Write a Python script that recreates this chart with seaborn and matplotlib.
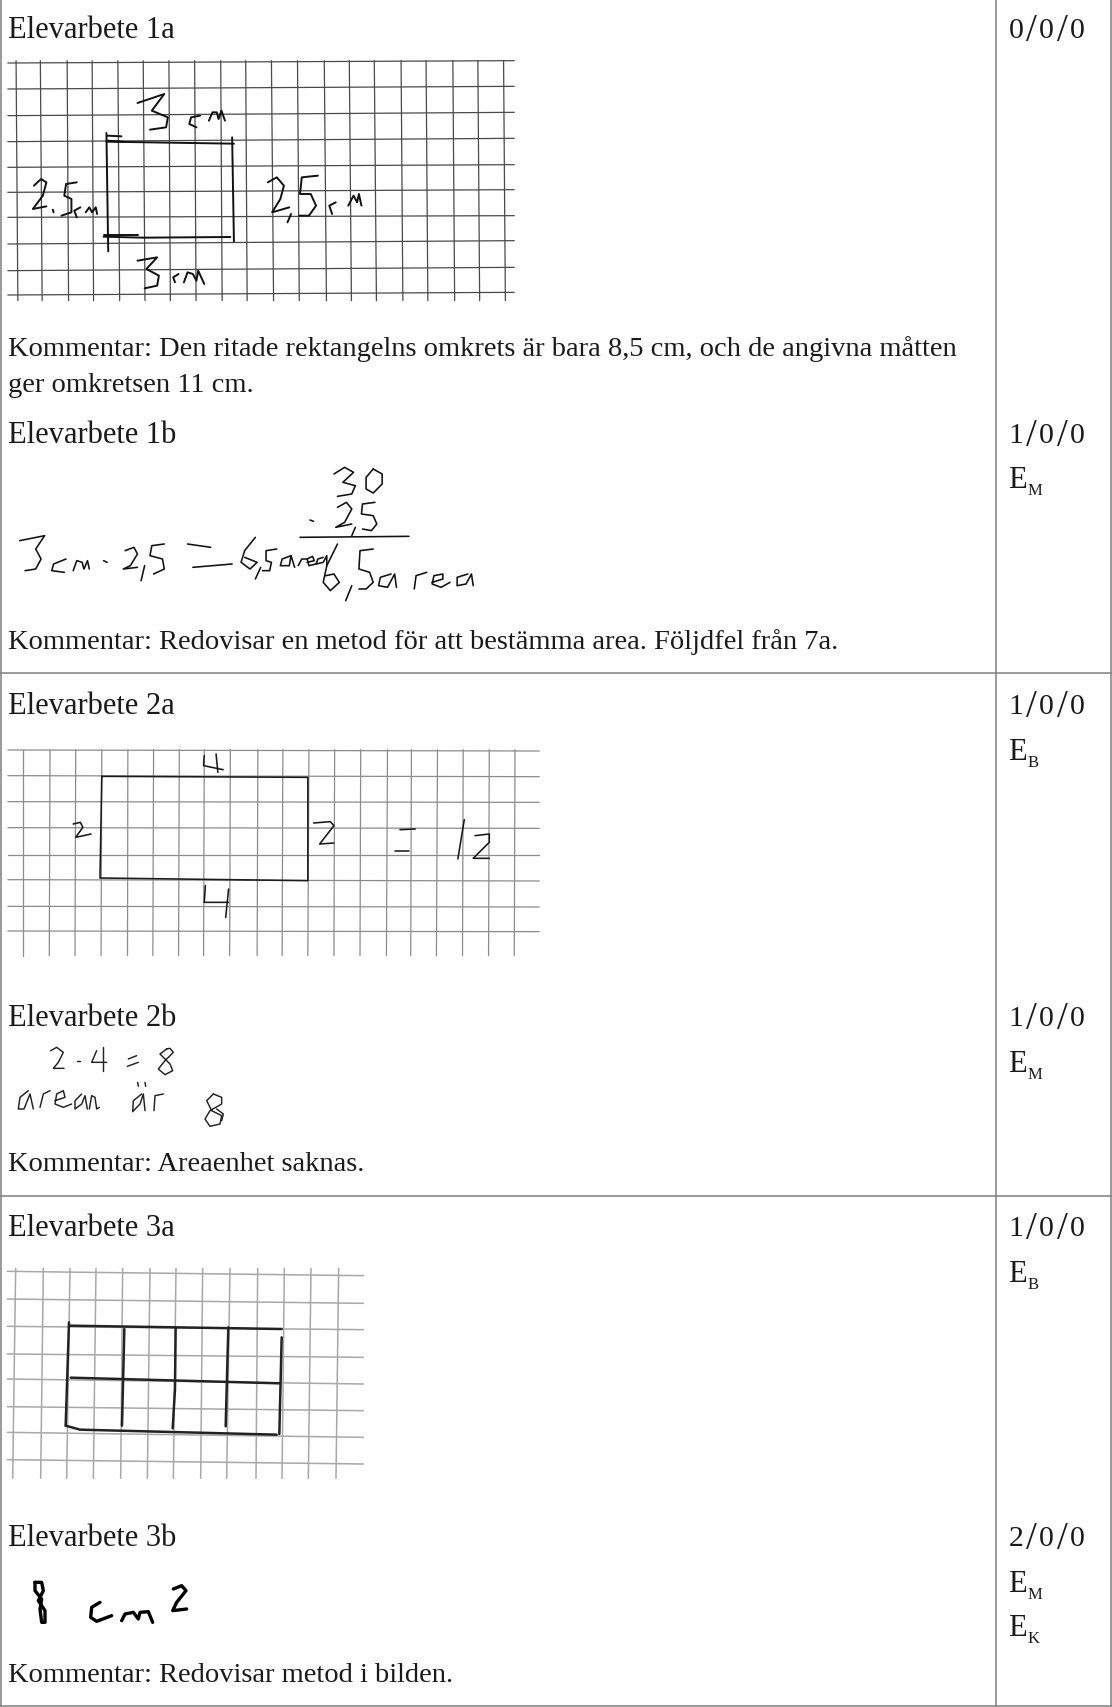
import pandas as pd
import seaborn as sns
import matplotlib.pyplot as plt

# ---------- table ----------
col_x = [1, 995.5, 1111]
row_y = [674, 1197, 1707]

# label, baseline y
left_labels = ['Elevarbete 1a', 'Elevarbete 1b', 'Elevarbete 2a', 'Elevarbete 2b', 'Elevarbete 3a', 'Elevarbete 3b']
left_label_y = [38, 443, 714, 1026, 1236, 1546]
comments = ['Kommentar: Den ritade rektangelns omkrets är bara 8,5 cm, och de angivna måtten',
            'ger omkretsen 11 cm.',
            'Kommentar: Redovisar en metod för att bestämma area. Följdfel från 7a.',
            'Kommentar: Areaenhet saknas.',
            'Kommentar: Redovisar metod i bilden.']
comment_y = [356, 392, 649, 1171, 1682]
scores = ['0/0/0', '1/0/0', '1/0/0', '1/0/0', '1/0/0', '2/0/0']
score_y = [38, 443, 714, 1026, 1236, 1546]
e_subs = ['M', 'B', 'M', 'B', 'M', 'K']
e_y = [488, 760, 1072, 1282, 1592, 1636]

# ---------- paper grids, read in crop pixels ----------
grid1_xtop = [45, 113, 188, 258, 330, 401, 473, 545, 618, 688, 760, 833, 908, 978, 1048, 1123, 1193, 1268, 1338, 1410]
grid1_xbot = [50, 118, 192, 262, 335, 406, 477, 549, 622, 692, 766, 838, 914, 984, 1054, 1128, 1198, 1273, 1343, 1415]
grid1_yleft = [192, 270, 350, 428, 505, 580, 655, 735, 815, 888]
grid1_yright = [185, 262, 340, 418, 497, 572, 650, 725, 805, 880]

grid2_xtop = [65, 140, 212, 285, 358, 430, 502, 572, 645, 722, 792, 865, 937, 1010, 1085, 1152, 1225, 1297, 1370, 1442]
grid2_xbot = [65, 138, 210, 283, 357, 428, 500, 570, 643, 720, 790, 862, 935, 1008, 1082, 1150, 1222, 1295, 1368, 1440]
grid2_yleft = [63, 140, 218, 296, 378, 452, 532, 606]
grid2_yright = [66, 143, 220, 298, 378, 456, 534, 608]

grid3_xtop = [47, 130, 210, 288, 368, 450, 528, 608, 690, 773, 853, 933, 1016]
grid3_xbot = [38, 122, 200, 280, 362, 442, 520, 602, 680, 768, 846, 925, 1008]
grid3_yleft = [97, 180, 262, 345, 420, 503, 580, 662]
grid3_yright = [110, 193, 272, 355, 435, 515, 595, 675]

# ---------- handwriting, read in crop pixels ----------
work1a = [
    [(298, 428), (655, 434)], [(298, 402), (303, 757)], [(650, 415), (655, 728)],
    [(290, 713), (400, 716), (645, 714)], [(300, 425), (345, 428)], [(300, 410), (340, 412)],
    [(290, 708), (385, 708)],
    [(385, 312), (460, 285), (425, 335), (470, 355), (465, 385), (420, 392)],
    [(560, 350), (535, 355), (530, 375), (550, 385)],
    [(585, 365), (595, 340), (607, 340), (612, 360), (620, 335), (630, 365)],
    [(95, 560), (115, 540), (130, 550), (120, 590), (92, 630), (130, 622)],
    [(150, 640), (148, 632)],
    [(215, 550), (185, 555), (180, 590), (200, 600), (200, 640), (172, 650)],
    [(225, 625), (208, 635), (215, 655)],
    [(240, 640), (250, 625), (258, 640), (268, 625), (272, 645)],
    [(750, 550), (775, 535), (795, 560), (785, 600), (762, 640), (810, 625)],
    [(815, 645), (805, 670)],
    [(890, 530), (845, 535), (840, 585), (870, 585), (885, 620), (865, 650), (838, 650)],
    [(940, 610), (922, 620), (930, 645)],
    [(975, 620), (990, 590), (1000, 610), (1005, 585), (1012, 620)],
    [(385, 785), (440, 775), (410, 810), (445, 830), (440, 860), (405, 868)],
    [(500, 825), (485, 835), (490, 850)],
    [(515, 850), (525, 820), (540, 825), (550, 845), (555, 815), (572, 855)],
]
work1b = [
    [(55, 365), (125, 350), (100, 390), (115, 420), (100, 450), (70, 455)],
    [(185, 420), (150, 435), (145, 455), (180, 460)],
    [(205, 455), (215, 425), (230, 430), (235, 450), (245, 425), (250, 450)],
    [(290, 425), (300, 430)],
    [(350, 395), (375, 385), (385, 405), (365, 440), (345, 450), (385, 445)],
    [(405, 440), (395, 485)],
    [(460, 375), (425, 380), (420, 410), (455, 420), (460, 450), (430, 465)],
    [(525, 375), (590, 385)], [(540, 445), (650, 435)],
    [(715, 355), (685, 395), (675, 430), (700, 450), (720, 430), (685, 415)],
    [(730, 445), (715, 480)],
    [(775, 390), (745, 395), (745, 425), (760, 430), (755, 455), (735, 455)],
    [(815, 410), (790, 420), (785, 440), (810, 440), (815, 410), (825, 445)],
    [(835, 440), (845, 420), (860, 420)],
    [(860, 430), (880, 425), (875, 412), (860, 420), (865, 440), (885, 435)],
    [(905, 415), (890, 420), (885, 435), (905, 430), (915, 410), (915, 440)],
    [(945, 375), (915, 440), (905, 490), (925, 515), (950, 490), (935, 465), (912, 470)],
    [(985, 500), (968, 545)],
    [(1045, 390), (1008, 395), (1005, 450), (1035, 460), (1045, 490), (1025, 510), (1005, 510)],
    [(1095, 465), (1065, 475), (1060, 500), (1085, 505), (1105, 465), (1110, 505)],
    [(1160, 510), (1165, 470), (1195, 460)],
    [(1210, 490), (1240, 480), (1240, 465), (1215, 470), (1210, 495), (1235, 505), (1260, 490)],
    [(1310, 465), (1280, 475), (1280, 500), (1305, 495), (1320, 465), (1325, 500)],
    [(935, 165), (965, 145), (990, 160), (960, 190), (995, 200), (985, 225), (945, 232)],
    [(1045, 150), (1025, 175), (1025, 210), (1045, 222), (1070, 195), (1070, 165), (1045, 150)],
    [(868, 303), (878, 307)],
    [(945, 265), (970, 250), (985, 270), (965, 310), (940, 325), (985, 315)],
    [(995, 325), (985, 350)],
    [(1050, 250), (1015, 255), (1012, 285), (1045, 290), (1055, 315), (1040, 335), (1015, 330)],
    [(840, 355), (1145, 352)],
]
work2a = [
    [(285, 142), (862, 145), (862, 455), (280, 447), (285, 142)],
    [(572, 80), (570, 110), (625, 122)], [(605, 75), (610, 130)],
    [(205, 285), (225, 280), (232, 295), (212, 325), (255, 315)],
    [(878, 282), (925, 278), (935, 290), (895, 345), (935, 342)],
    [(1120, 302), (1163, 300)], [(1105, 365), (1145, 365)],
    [(1300, 272), (1282, 390)],
    [(1330, 320), (1370, 315), (1370, 340), (1325, 388), (1370, 388)],
    [(575, 470), (572, 520), (640, 520)], [(640, 480), (632, 565)],
]
work2b = [
    [(152, 65), (170, 55), (190, 70), (175, 100), (160, 118), (192, 118)],
    [(230, 97), (240, 97)],
    [(290, 65), (275, 100), (320, 100)], [(310, 55), (310, 125)],
    [(385, 90), (410, 80)], [(382, 112), (415, 100)],
    [(500, 60), (480, 75), (510, 105), (518, 125), (495, 137), (475, 120), (495, 95), (520, 70), (510, 58), (500, 60)],
    [(85, 185), (60, 205), (55, 240), (72, 240), (90, 195), (100, 240)],
    [(120, 235), (130, 195), (150, 185)],
    [(165, 215), (195, 205), (190, 185), (170, 195), (165, 225), (190, 235), (215, 225)],
    [(245, 195), (225, 215), (225, 240), (245, 225), (255, 200), (262, 240)],
    [(268, 240), (275, 200), (285, 205), (290, 240), (298, 235)],
    [(425, 195), (400, 215), (398, 248), (420, 225), (430, 195), (435, 245)],
    [(413, 160), (415, 172)], [(435, 160), (437, 172)],
    [(462, 245), (465, 200), (490, 195)],
    [(640, 195), (620, 215), (635, 245), (665, 260), (660, 285), (630, 292), (615, 270), (630, 245), (665, 225), (665, 205), (640, 195)],
    [(650, 240), (670, 255), (665, 275)],
]
work3a = [
    [(207, 260), (845, 270)], [(197, 560), (240, 572), (830, 587)],
    [(207, 250), (197, 560)], [(845, 295), (838, 585)],
    [(373, 270), (366, 560)], [(527, 265), (525, 450), (518, 568)], [(685, 265), (677, 562)],
    [(212, 416), (840, 433)],
]
work3b = [
    [(105, 70), (125, 70), (130, 95), (115, 125), (135, 155), (135, 190), (125, 190), (120, 150), (125, 120), (105, 95), (105, 70)],
    [(300, 130), (275, 145), (272, 175), (290, 187), (335, 170)],
    [(365, 185), (375, 165), (400, 160), (415, 180), (420, 160), (445, 158), (458, 190)],
    [(520, 90), (545, 80), (558, 95), (530, 130), (518, 155), (560, 150)],
]


def grid_rows(name, xtop, xbot, yleft, yright, ystart, yend, xstart, xend, y0, sx):
    # one row per line end, crop pixels -> figure pixels
    rows = []
    for i, (a, b) in enumerate(zip(xtop, xbot)):
        rows.append((f'{name}v{i}', a / sx, y0 + ystart / 3))
        rows.append((f'{name}v{i}', b / sx, y0 + yend / 3))
    for i, (a, b) in enumerate(zip(yleft, yright)):
        rows.append((f'{name}h{i}', xstart / sx, y0 + a / 3))
        rows.append((f'{name}h{i}', xend / sx, y0 + b / 3))
    return pd.DataFrame(rows, columns=['stroke', 'x', 'y'])


def ink_rows(name, strokes, y0, sx):
    rows = []
    for i, stroke in enumerate(strokes):
        for px, py in stroke:
            rows.append((f'{name}{i}', px / sx, y0 + py / 3))
    return pd.DataFrame(rows, columns=['stroke', 'x', 'y'])


sns.set_theme(style='white')
plt.rcParams['font.family'] = ['Liberation Serif', 'DejaVu Serif']

fig, ax = plt.subplots(figsize=(11.12, 17.08), dpi=100)
fig.subplots_adjust(left=0, right=1, top=1, bottom=0)


def draw(df, color, lw):
    sns.lineplot(data=df, x='x', y='y', units='stroke', estimator=None, sort=False,
                 color=color, linewidth=lw, ax=ax, legend=False,
                 solid_capstyle='round', solid_joinstyle='round')


draw(grid_rows('g1', grid1_xtop, grid1_xbot, grid1_yleft, grid1_yright, 185, 905, 22, 1440, 0, 2.8), '#4a4a4a', 0.9)
draw(grid_rows('g2', grid2_xtop, grid2_xbot, grid2_yleft, grid2_yright, 62, 680, 22, 1510, 730, 2.8), '#8c8c8c', 0.9)
draw(grid_rows('g3', grid3_xtop, grid3_xbot, grid3_yleft, grid3_yright, 88, 718, 22, 1090, 1240, 3), '#a8a8a8', 1.1)

draw(ink_rows('a1', work1a, 0, 2.8), '#111111', 1.4)
draw(ink_rows('b1', work1b, 420, 2.8), '#111111', 1.15)
draw(ink_rows('a2', work2a, 730, 2.8), '#1a1a1a', 1.15)
draw(ink_rows('b2', work2b, 1030, 3), '#222222', 1.05)
draw(ink_rows('a3', work3a, 1240, 3), '#222222', 1.8)
draw(ink_rows('b3', work3b, 1560, 3), '#000000', 2.4)

ax.set_xlim(0, 1112)
ax.set_ylim(1708, 0)
ax.axis('off')

# table rules
border = '#7f7f7f'
ax.vlines(col_x, 0, 1708, color=border, lw=1.1)
ax.hlines(row_y, 0, 1112, color=border, lw=1.1)

head_size = 22
text_size = 20.5
text_color = '#1a1a1a'
for label, y in zip(left_labels, left_label_y):
    ax.text(8, y, label, fontsize=head_size, color=text_color, va='baseline')
for label, y in zip(comments, comment_y):
    ax.text(8, y, label, fontsize=text_size, color=text_color, va='baseline')
# the score glyphs sit in even 15 px cells in the reference font
for label, y in zip(scores, score_y):
    for i, ch in enumerate(label):
        slash = ch == '/'
        ax.text(1016 + 15.4 * i, y + (3 if slash else 0), ch, fontsize=28 if slash else 21.5,
                color=text_color, va='baseline', ha='center')
for sub, y in zip(e_subs, e_y):
    ax.text(1008, y, 'E', fontsize=head_size, color=text_color, va='baseline')
    ax.text(1028, y + 7, sub, fontsize=12, color=text_color, va='baseline')

fig.savefig('out.png', dpi=100)
